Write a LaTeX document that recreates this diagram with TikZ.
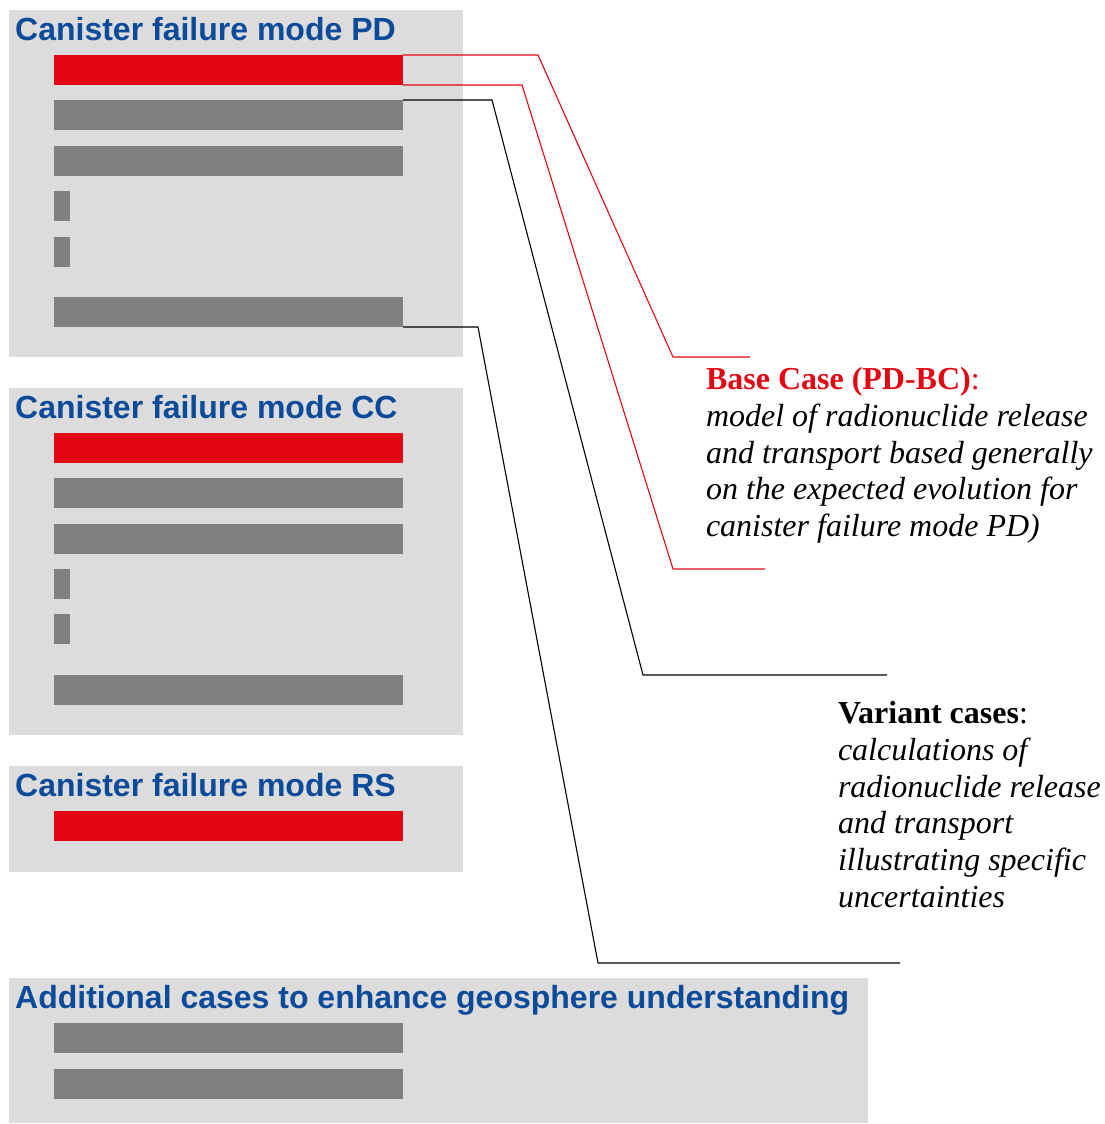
\documentclass[tikz,border=0pt]{standalone}
\usepackage{fontspec}
\setmainfont{Liberation Serif}
\setsansfont{Liberation Sans}
\definecolor{tred}{RGB}{227,6,19}
\definecolor{tblue}{RGB}{12,74,154}
\definecolor{panelgray}{RGB}{220,220,220}
\definecolor{bargray}{RGB}{128,128,128}
\newcommand\bodyfnt{\fontsize{32}{36.8}\selectfont}
\begin{document}
\begin{tikzpicture}[x=1pt,y=-1pt,
  panel/.style={fill=panelgray, inner sep=0, outer sep=0, anchor=north west},
  greybar/.style={fill=bargray, inner sep=0, outer sep=0, anchor=north west, minimum width=349pt, minimum height=30pt},
  redbar/.style={greybar, fill=tred},
  stub/.style={greybar, minimum width=16pt},
  paneltitle/.style={anchor=base west, inner sep=0, text=tblue, font=\sffamily\bfseries\fontsize{32}{38}\selectfont},
  redline/.style={draw=tred, line width=1.1pt},
  blackline/.style={draw=black, line width=1.1pt},
  textblock/.style={anchor=base west, inner sep=0, outer sep=0}]
\useasboundingbox (0,0) rectangle (1105,1124);
% panels
\node[panel, minimum width=454pt, minimum height=347pt] (pPD) at (9,10) {};
\node[panel, minimum width=454pt, minimum height=347pt] (pCC) at (9,388) {};
\node[panel, minimum width=454pt, minimum height=106pt] (pRS) at (9,766) {};
\node[panel, minimum width=859pt, minimum height=145pt] (pAD) at (9,978) {};
% titles
\node[paneltitle] (tPD) at (15,40.5) {Canister failure mode PD};
\node[paneltitle] (tCC) at (15,418.5) {Canister failure mode CC};
\node[paneltitle] (tRS) at (15,796.5) {Canister failure mode RS};
\node[paneltitle] (tAD) at (15,1008) {Additional cases to enhance geosphere understanding};
% PD bars
\node[redbar] (pd1) at (54,55) {};
\node[greybar] (pd2) at (54,100) {};
\node[greybar] (pd3) at (54,146) {};
\node[stub] (pd4) at (54,191) {};
\node[stub] (pd5) at (54,237) {};
\node[greybar] (pd6) at (54,297) {};
% CC bars
\node[redbar] (cc1) at (54,433) {};
\node[greybar] (cc2) at (54,478) {};
\node[greybar] (cc3) at (54,524) {};
\node[stub] (cc4) at (54,569) {};
\node[stub] (cc5) at (54,614) {};
\node[greybar] (cc6) at (54,675) {};
% RS bar
\node[redbar] (rs1) at (54,811) {};
% additional bars
\node[greybar] (ad1) at (54,1023) {};
\node[greybar] (ad2) at (54,1069) {};
% texts
\node[textblock] (bc) at (706,389.5) {\parbox[t]{420pt}{\bodyfnt\raggedright
  \textcolor{tred}{\textbf{Base Case (PD-BC)}:}\\
  \textit{model of radionuclide release}\\
  \textit{and transport based generally}\\
  \textit{on the expected evolution for}\\
  \textit{canister failure mode PD)}}};
\node[textblock] (vc) at (838,723.5) {\parbox[t]{300pt}{\bodyfnt\raggedright
  \textbf{Variant cases}:\\
  \textit{calculations of}\\
  \textit{radionuclide release}\\
  \textit{and transport}\\
  \textit{illustrating specific}\\
  \textit{uncertainties}}};
% connector points
\coordinate (r1a) at (538,55);
\coordinate (r1b) at (673,357);
\coordinate (r1c) at (750,357);
\coordinate (r2a) at (522,85);
\coordinate (r2b) at (673,569);
\coordinate (r2c) at (765,569);
\coordinate (b1a) at (492,100);
\coordinate (b1b) at (643,675);
\coordinate (b1c) at (887,675);
\coordinate (b2a) at (478,327);
\coordinate (b2b) at (598,963);
\coordinate (b2c) at (900,963);
% connectors
\draw[redline] (pd1.north east) -- (r1a) -- (r1b) -- (r1c);
\draw[redline] (pd1.south east) -- (r2a) -- (r2b) -- (r2c);
\draw[blackline] (pd2.north east) -- (b1a) -- (b1b) -- (b1c);
\draw[blackline] (pd6.south east) -- (b2a) -- (b2b) -- (b2c);
\end{tikzpicture}
\end{document}
